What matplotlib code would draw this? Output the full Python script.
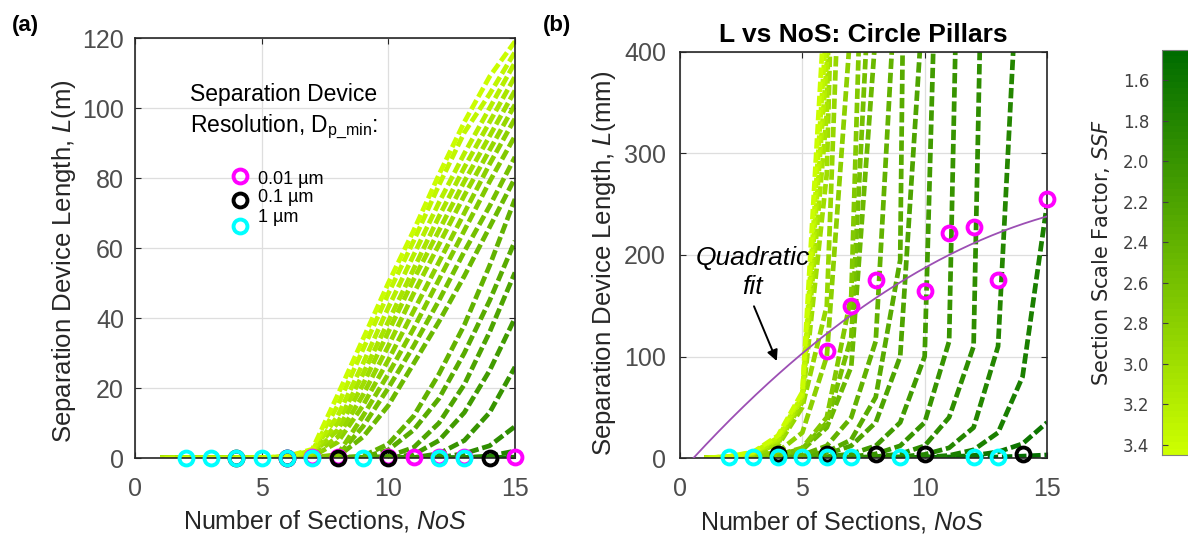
import numpy as np
import matplotlib
matplotlib.use("Agg")
import matplotlib.pyplot as plt
from matplotlib.colors import LinearSegmentedColormap, Normalize
from matplotlib.cm import ScalarMappable

plt.rcParams['font.family'] = ['Liberation Sans', 'DejaVu Sans']
plt.rcParams['mathtext.fontset'] = 'custom'
plt.rcParams['mathtext.rm'] = 'Liberation Sans'
plt.rcParams['mathtext.it'] = 'Liberation Sans:italic'

# ── data: device length L (mm) vs number of sections, one row per SSF ──
nos = np.arange(1, 16)
ssf = [1.5, 1.6, 1.7, 1.8, 1.9, 2.0, 2.1, 2.2, 2.3, 2.4,
       2.5, 2.6, 2.7, 2.8, 2.9, 3.0, 3.1, 3.2, 3.3, 3.4]
L_mm = [
    [0, 0, 0, 0, 0, 0, 0, 0, 0.1, 0.2, 0.3, 0.6, 1, 1.8, 3],
    [0, 0, 0, 0, 0, 0, 0, 0.1, 0.2, 0.4, 1, 2.5, 6, 14, 35],
    [0, 0, 0, 0, 0, 0, 0.1, 0.2, 0.4, 0.8, 2.5, 8, 25, 80, 250],
    [0, 0, 0, 0, 0, 0.1, 0.2, 0.5, 1.2, 3.5, 10, 30, 110, 580, 2000],
    [0, 0, 0, 0, 0.1, 0.2, 0.5, 1.3, 4, 12, 40, 110, 1270, 3500, 9000],
    [0, 0, 0, 0, 0.1, 0.4, 1.3, 4, 12, 35, 115, 1250, 5000, 13000, 26000],
    [0, 0, 0, 0.1, 0.4, 1.3, 4, 12, 35, 100, 960, 5000, 13000, 25000, 40000],
    [0, 0, 0, 0.2, 1.3, 4, 12, 35, 100, 475, 3000, 10000, 21000, 36000, 53000],
    [0, 0, 0.1, 0.5, 2, 6, 18, 60, 195, 2300, 8000, 17000, 30000, 45000, 62000],
    [0, 0, 0.2, 1, 3, 12, 40, 115, 550, 4000, 12000, 24000, 38000, 55000, 74000],
    [0, 0, 0.5, 2, 8, 30, 90, 420, 6000, 15000, 27000, 39000, 52000, 66000, 80000],
    [0, 0, 1, 3, 9, 35, 119, 590, 9000, 20000, 32000, 45000, 59000, 72000, 86000],
    [0, 0, 1, 3, 10, 40, 160, 960, 12000, 24000, 37000, 51000, 65000, 79000, 92000],
    [0, 0.5, 1.5, 6, 25, 100, 433, 4500, 15000, 28000, 42000, 56000, 70000, 84000, 97000],
    [0, 0.8, 3, 12, 50, 150, 800, 6000, 18000, 32000, 47000, 61000, 75000, 88000, 101000],
    [0, 1, 4, 14, 55, 280, 1200, 8000, 21000, 36000, 51000, 65000, 79000, 92000, 105000],
    [0, 1.2, 4.5, 16, 58, 340, 1500, 10000, 24000, 39000, 54000, 69000, 83000, 96000, 109000],
    [0, 1.3, 5, 18, 60, 390, 1800, 12000, 27000, 43000, 58000, 73000, 87000, 100000, 113000],
    [0, 1.4, 5.5, 20, 62, 430, 2100, 15000, 31000, 47000, 62000, 78000, 93000, 104000, 116000],
    [0, 1.5, 6, 22, 65, 480, 2500, 18000, 34000, 50000, 65000, 81000, 96000, 109000, 119000],
]

# measured device lengths (mm) for each resolution
mag_nos = [6, 7, 8, 10, 11, 12, 13, 15]
mag_L = [105, 150, 175, 165, 222, 228, 175, 255]
blk_nos = [4, 6, 8, 10, 14]
blk_L = [4, 4, 4, 4, 4]
cyan_nos = [2, 3, 4, 5, 6, 7, 9, 12, 13]
cyan_L = [1, 1, 1, 1, 1, 1, 1, 1, 1]

# quadratic fit through the 0.01 um points (mm)
quad_fit = [-0.6695, 26.881, -14.58]

# ── colours ──
cmap = LinearSegmentedColormap.from_list('ssf_green', ['#006c00', '#cdff00'], N=64)
norm = Normalize(vmin=1.45, vmax=3.45)
MAGENTA = '#ff00ff'
CYAN = '#00ffff'
BLACK = '#000000'
PURPLE = '#9c4fb4'
SPINE = '#262626'
TICK_TXT = '#4d4d4d'

fig = plt.figure(figsize=(11.88, 5.34), dpi=100)
fig.patch.set_facecolor('white')
W, H = 1188, 534
ax_a = fig.add_axes([135 / W, 76 / H, 380 / W, 420 / H])
ax_b = fig.add_axes([680 / W, 76 / H, 367 / W, 406 / H])
cax = fig.add_axes([1162 / W, 79 / H, 45 / W, 405 / H])


def style_axes(ax, ypad):
    ax.set_axisbelow(True)
    ax.grid(True, color='#dedede', lw=0.9)
    for sp in ax.spines.values():
        sp.set_color(SPINE)
        sp.set_linewidth(1.2)
    ax.tick_params(direction='in', length=4, width=0.8, color=SPINE,
                   top=True, right=True, labelsize=18, labelcolor=TICK_TXT)
    ax.tick_params(axis='y', pad=ypad)
    ax.tick_params(axis='x', pad=14)
    ax.set_xlim(0, 15)
    ax.set_xticks([0, 5, 10, 15])


def draw_curves(ax, scale):
    for k, (s, row) in enumerate(zip(ssf, L_mm)):
        y = np.array(row) * scale
        ax.plot(nos, y, color=cmap(norm(s)), lw=3.4,
                linestyle=((k * 0.9) % 3.0, (2.2, 0.8)),
                dash_capstyle='butt', solid_joinstyle='round', zorder=2)


def draw_markers(ax, scale):
    kw = dict(marker='o', ls='none', ms=10, mew=2.8, mfc='none',
              clip_on=False, zorder=6)
    ax.plot(mag_nos, np.array(mag_L) * scale, mec=MAGENTA, **kw)
    ax.plot(blk_nos, np.array(blk_L) * scale, mec=BLACK, **kw)
    ax.plot(cyan_nos, np.array(cyan_L) * scale, mec=CYAN, **kw)


# ── (a) L in metres ──
style_axes(ax_a, 8)
draw_curves(ax_a, 1e-3)
draw_markers(ax_a, 1e-3)
ax_a.set_ylim(0, 120)
ax_a.set_yticks(np.arange(0, 121, 20))
ax_a.set_ylabel('Separation Device Length, $\\it{L}$(m)', fontsize=18.5, color=SPINE)
ax_a.set_xlabel('Number of Sections, $\\it{NoS}$', fontsize=18, color=SPINE)
ax_a.yaxis.set_label_coords(-0.15, 0.47)
ax_a.xaxis.set_label_coords(0.5, -0.118)

# legend block
ax_a.text(2.17, 104, 'Separation Device', fontsize=16.5, va='center', ha='left')
ax_a.text(2.17, 94.7, 'Resolution, D$_{\\mathrm{p\\_min}}$:', fontsize=16.5, va='center', ha='left')
leg_kw = dict(marker='o', ls='none', ms=10, mew=2.8, mfc='none', zorder=6)
ax_a.plot([4.15], [80.5], mec=MAGENTA, **leg_kw)
ax_a.plot([4.15], [73.8], mec=BLACK, **leg_kw)
ax_a.plot([4.15], [66.2], mec=CYAN, **leg_kw)
ax_a.text(4.86, 79.6, '0.01 µm', fontsize=13, va='center', ha='left')
ax_a.text(4.86, 74.3, '0.1 µm', fontsize=13, va='center', ha='left')
ax_a.text(4.86, 68.6, '1 µm', fontsize=13, va='center', ha='left')

# ── (b) L in millimetres ──
style_axes(ax_b, 10)
draw_curves(ax_b, 1.0)
x0 = min(r.real for r in np.roots(quad_fit) if r.real > 0)
xq = np.linspace(x0, 15, 200)
ax_b.plot(xq, np.polyval(quad_fit, xq), color=PURPLE, lw=1.3, zorder=4)
draw_markers(ax_b, 1.0)
ax_b.set_ylim(0, 400)
ax_b.set_yticks(np.arange(0, 401, 100))
ax_b.set_ylabel('Separation Device Length, $\\it{L}$(mm)', fontsize=18.5, color=SPINE)
ax_b.set_xlabel('Number of Sections, $\\it{NoS}$', fontsize=18, color=SPINE)
ax_b.yaxis.set_label_coords(-0.169, 0.48)
ax_b.xaxis.set_label_coords(0.441, -0.125)
ax_b.set_title('L vs NoS: Circle Pillars', fontsize=19, fontweight='bold', pad=7)

ax_b.text(2.98, 197, 'Quadratic', fontsize=19, style='italic', ha='center', va='center')
ax_b.text(2.98, 168, 'fit', fontsize=19, style='italic', ha='center', va='center')
ax_b.annotate('', xy=(4.0, 93), xytext=(2.98, 152),
              arrowprops=dict(arrowstyle='-|>', color='black', lw=1.4, mutation_scale=16))

# ── colour bar ──
sm = ScalarMappable(norm=norm, cmap=cmap)
cb = fig.colorbar(sm, cax=cax, orientation='vertical')
cax.invert_yaxis()
cb.outline.set_edgecolor('#808080')
cb.outline.set_linewidth(0.8)
cb.set_ticks(np.round(np.arange(1.6, 3.41, 0.2), 1))
cb.set_ticklabels([f'{t:.1f}' for t in np.arange(1.6, 3.41, 0.2)])
cax.yaxis.set_ticks_position('left')
cax.yaxis.set_label_position('left')
cax.tick_params(direction='in', length=4, width=0.8, color='#404040',
                left=True, right=True, labelsize=12, labelcolor='#404040', pad=9)
for lab in cax.get_yticklabels():
    lab.set_fontfamily('DejaVu Sans')
cb.set_label('Section Scale Factor, $\\it{SSF}$', fontsize=15, color=SPINE,
             fontfamily='DejaVu Sans', math_fontfamily='dejavusans', labelpad=8)

# ── panel tags ──
fig.text(25 / W, 1 - 25 / H, '(a)', fontsize=16, fontweight='bold', ha='center', va='center')
fig.text(557 / W, 1 - 25 / H, '(b)', fontsize=16, fontweight='bold', ha='center', va='center')

fig.savefig('out.png', dpi=100, facecolor='white')
